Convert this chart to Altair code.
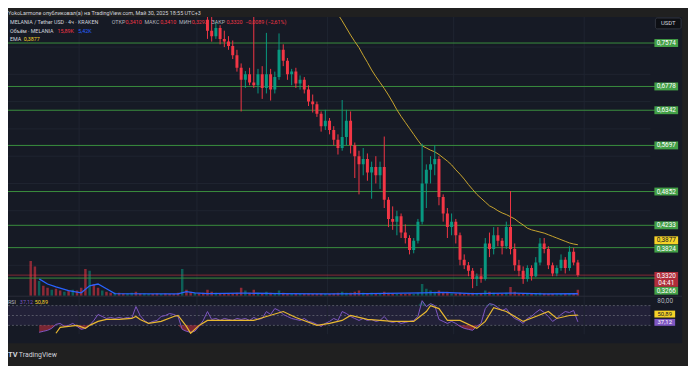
import json
import altair as alt
import numpy as np
import pandas as pd

BASE = pd.Timestamp("2025-02-01")

# ---------------- data ----------------
candle_first = "2025-03-03"
c_open = [0.800, 0.780, 0.770, 0.785, 0.765, 0.760, 0.752, 0.735, 0.712, 0.690,
          0.700, 0.685, 0.680, 0.700, 0.675, 0.700, 0.672, 0.695, 0.745, 0.725,
          0.700, 0.705, 0.683, 0.690, 0.672, 0.650, 0.645, 0.628, 0.605,
          0.615, 0.598, 0.580, 0.565, 0.585, 0.615, 0.570, 0.550, 0.535, 0.545,
          0.520, 0.530, 0.515, 0.530, 0.470, 0.435, 0.430, 0.440, 0.410, 0.400,
          0.378, 0.395, 0.430, 0.500, 0.525, 0.535, 0.545, 0.475, 0.445, 0.420,
          0.430, 0.405, 0.360, 0.350, 0.340, 0.325, 0.330, 0.325, 0.390, 0.380,
          0.405, 0.395, 0.385, 0.420, 0.380, 0.350, 0.340, 0.325, 0.345, 0.330,
          0.355, 0.390, 0.380, 0.350, 0.335, 0.345, 0.360, 0.345, 0.375, 0.355]
c_high = [0.820, 0.805, 0.795, 0.790, 0.780, 0.770, 0.762, 0.745, 0.720, 0.706,
          0.712, 0.810, 0.710, 0.715, 0.776, 0.710, 0.705, 0.775, 0.755, 0.730,
          0.710, 0.712, 0.698, 0.695, 0.680, 0.663, 0.650, 0.632, 0.635,
          0.620, 0.605, 0.590, 0.653, 0.635, 0.632, 0.575, 0.560, 0.565, 0.555,
          0.540, 0.550, 0.540, 0.586, 0.475, 0.458, 0.450, 0.445, 0.425, 0.405,
          0.400, 0.435, 0.573, 0.535, 0.550, 0.570, 0.550, 0.480, 0.455, 0.445,
          0.435, 0.410, 0.370, 0.356, 0.345, 0.335, 0.345, 0.400, 0.410, 0.420,
          0.420, 0.400, 0.430, 0.486, 0.390, 0.360, 0.348, 0.350, 0.350, 0.365,
          0.400, 0.400, 0.385, 0.355, 0.350, 0.370, 0.365, 0.385, 0.382, 0.360]
c_low = [0.765, 0.760, 0.765, 0.755, 0.750, 0.745, 0.728, 0.705, 0.632, 0.675,
         0.680, 0.675, 0.665, 0.655, 0.665, 0.652, 0.665, 0.690, 0.715, 0.690,
         0.680, 0.675, 0.672, 0.665, 0.642, 0.630, 0.622, 0.595, 0.598,
         0.590, 0.570, 0.553, 0.560, 0.570, 0.555, 0.510, 0.480, 0.515, 0.505,
         0.472, 0.500, 0.490, 0.455, 0.420, 0.415, 0.405, 0.400, 0.390, 0.370,
         0.372, 0.390, 0.425, 0.455, 0.500, 0.515, 0.460, 0.430, 0.400, 0.405,
         0.390, 0.350, 0.343, 0.330, 0.308, 0.312, 0.318, 0.322, 0.365, 0.370,
         0.385, 0.370, 0.380, 0.370, 0.340, 0.330, 0.316, 0.320, 0.322, 0.328,
         0.350, 0.372, 0.343, 0.330, 0.330, 0.340, 0.335, 0.340, 0.350, 0.329]
c_close = [0.780, 0.770, 0.785, 0.765, 0.760, 0.752, 0.735, 0.712, 0.690, 0.700,
           0.685, 0.680, 0.700, 0.675, 0.700, 0.672, 0.695, 0.745, 0.725, 0.700,
           0.705, 0.683, 0.690, 0.672, 0.650, 0.645, 0.628, 0.605, 0.615,
           0.598, 0.580, 0.565, 0.585, 0.615, 0.570, 0.550, 0.535, 0.545, 0.520,
           0.530, 0.515, 0.530, 0.470, 0.435, 0.430, 0.440, 0.410, 0.400, 0.378,
           0.395, 0.430, 0.500, 0.525, 0.535, 0.545, 0.475, 0.445, 0.420, 0.430,
           0.405, 0.360, 0.350, 0.340, 0.325, 0.330, 0.325, 0.390, 0.380, 0.405,
           0.395, 0.385, 0.420, 0.380, 0.350, 0.340, 0.325, 0.345, 0.330, 0.355,
           0.390, 0.380, 0.350, 0.335, 0.345, 0.360, 0.345, 0.375, 0.355, 0.332]

ema_first = "2025-04-01"
ema_vals = [0.830, 0.820, 0.810, 0.798, 0.785, 0.772, 0.760, 0.749, 0.735, 0.722,
            0.708, 0.696, 0.685, 0.674, 0.662, 0.649, 0.635, 0.623, 0.612, 0.601,
            0.590, 0.579, 0.569, 0.565, 0.561, 0.558, 0.553, 0.547, 0.541, 0.534,
            0.525, 0.517, 0.508, 0.498, 0.489, 0.480, 0.473, 0.466, 0.459, 0.455,
            0.450, 0.446, 0.443, 0.439, 0.435, 0.429, 0.424, 0.418, 0.415, 0.413,
            0.411, 0.409, 0.406, 0.403, 0.400, 0.397, 0.394, 0.391, 0.389, 0.3877]

levels = [0.7574, 0.6778, 0.6342, 0.5697, 0.4852, 0.4233, 0.3824, 0.3266]
last_ohlc = [0.3410, 0.3410, 0.3293, 0.3320]
change = -0.0089
change_pct = -2.61
countdown = "04:41"
vol_last = "15,89K"
vol_ma_last = "5,42K"

rsi_first = "2025-01-22"
rsi_vals = [16, 18, 20, 24, 32, 34, 28, 30, 34, 28,
            22, 24, 30, 40, 52, 48, 44, 46, 44, 46, 44, 46, 44, 68, 50, 40, 34, 38, 40, 48,
            50, 54, 52, 48, 22, 18, 16, 18,
            28, 40, 58, 42, 44, 40, 44, 42, 40, 44, 42, 44, 40, 46, 42, 44, 58, 52, 64, 60,
            52, 48, 44, 42, 40, 44, 38, 36, 32, 28, 34,
            38, 44, 40, 58, 54, 48, 44, 40, 44, 40, 42, 38, 40, 48, 38, 36, 38, 34, 36, 38,
            40, 48, 80, 68, 74, 70, 42, 38, 34, 38,
            34, 28, 24, 22, 20, 28, 34, 64, 74, 72, 66, 60, 64, 52, 44, 40, 34, 44, 48, 56,
            62, 56, 48, 38, 44, 52, 58, 56, 60, 37.12]
rsi_ma_dates = ["2025-01-26", "2025-01-27", "2025-01-29", "2025-01-31", "2025-02-02", "2025-02-03",
                "2025-02-05", "2025-02-07", "2025-02-10", "2025-02-13", "2025-02-14", "2025-02-15",
                "2025-02-17", "2025-02-20", "2025-02-23", "2025-02-24", "2025-02-26", "2025-02-27",
                "2025-03-01", "2025-03-03", "2025-03-06", "2025-03-14", "2025-03-17", "2025-03-21",
                "2025-03-24", "2025-03-29", "2025-04-01", "2025-04-04", "2025-04-06", "2025-04-10",
                "2025-04-16", "2025-04-21", "2025-04-24", "2025-04-25", "2025-04-27", "2025-04-29",
                "2025-05-02", "2025-05-06", "2025-05-08", "2025-05-10", "2025-05-13", "2025-05-17",
                "2025-05-20", "2025-05-23", "2025-05-25", "2025-05-28", "2025-05-30"]
rsi_ma_vals = [14, 26, 28, 30, 24, 30, 38, 42, 42, 44, 48, 42, 34, 38, 48, 50, 28, 14,
               30, 40, 40, 40, 48, 58, 46, 30, 34, 40, 50, 42, 38, 38, 58, 70, 64, 40,
               40, 24, 38, 66, 58, 38, 48, 58, 44, 50, 50.89]
rsi_bands = [70, 50, 30]
rsi_scale_label = 80

vol_first = "2025-01-20"
vol_vals = [95, 80, 40, 27, 22, 16, 19, 14, 11, 14, 16, 14,
            22, 73, 68, 32, 22, 14, 11, 8, 8, 8, 6, 6, 8, 11, 6, 6, 5, 5, 6, 5,
            6, 5, 5, 8, 73, 16, 11, 8,
            6, 8, 16, 11, 8, 6, 5, 5, 6, 8, 22, 14, 8, 16, 8, 6, 11, 8, 6, 14,
            8, 5, 5, 6, 5, 5, 6, 5, 5, 6, 5,
            5, 6, 8, 11, 8, 8, 11, 14, 8, 6, 8, 6, 5, 11, 8, 6, 5, 5, 5, 6,
            5, 8, 32, 19, 14, 11, 14, 8, 11, 6,
            6, 8, 5, 5, 8, 6, 5, 14, 11, 8, 6, 5, 8, 24, 11, 6, 5, 5, 5, 6,
            8, 6, 5, 5, 4, 5, 5, 6, 6, 16]
vol_dir_early = "ddudduddud" "uddduddudd" "udduudduud" "dudddduddu" "dd"
vol_ma_dates = ["2025-01-22", "2025-01-24", "2025-01-26", "2025-01-29", "2025-02-01", "2025-02-03",
                "2025-02-05", "2025-02-07", "2025-02-09", "2025-02-24", "2025-02-26", "2025-02-28",
                "2025-03-03", "2025-03-12", "2025-03-20", "2025-04-01", "2025-04-10", "2025-04-23",
                "2025-04-28", "2025-05-05", "2025-05-15", "2025-05-22", "2025-05-30"]
vol_ma_vals = [46, 32, 24, 14, 8, 27, 32, 19, 6, 5, 11, 8, 6, 7, 6, 5, 6, 8, 9, 6, 7, 5, 5.42]

month_ticks = [0, 28, 59, 89, 120]
month_names = ["Фев", "Мар", "Апр", "Май", "Июн"]
price_ticks = [0.35, 0.45, 0.50, 0.55, 0.60, 0.65, 0.70, 0.75]

# ---------------- styling ----------------
F = "Roboto"
OUTER = "#202020"
PANEL = "#161a25"
GRID = "#1f2431"
UP = "#089981"
DN = "#f23645"
LVL = "#3a8f3e"
LVL_BOX = "#43a047"
EMA_C = "#c9a630"
RSI_C = "#7e57c2"
RSIMA_C = "#e8b830"
BLUE = "#2962ff"
LABEL = "#b2b5be"
TITLE = "#d1d4dc"
YEL = "#f5d328"

W, H = 650, 321
XS = alt.Scale(domain=[-15.72, 134.57], nice=False, zero=False)
PY = alt.Scale(domain=[0.2236, 0.8051], nice=False, zero=False)
RY = alt.Scale(domain=[12, 654], nice=False, zero=False)
VY = alt.Scale(domain=[-105.3, 761.4], nice=False, zero=False)
CS = alt.Scale(domain=["up", "down"], range=[UP, DN])


def tday(dates):
    idx = pd.to_datetime(pd.Index(dates))
    return np.asarray((idx - BASE).days, dtype=float) + 0.5


def fmt(v, d=4):
    return f"{v:.{d}f}".replace(".", ",").replace("-", "−")


ONE = pd.DataFrame({"a": [0]})

cdf = pd.DataFrame({"open": c_open, "high": c_high, "low": c_low, "close": c_close})
cdf["t"] = tday(pd.date_range(candle_first, periods=len(c_close)))
cdf["dir"] = np.where(cdf["close"] >= cdf["open"], "up", "down")

edf = pd.DataFrame({"ema": ema_vals})
edf["t"] = tday(pd.date_range(ema_first, periods=len(ema_vals)))

rdf = pd.DataFrame({"rsi": rsi_vals})
rdf["t"] = tday(pd.date_range(rsi_first, periods=len(rsi_vals)))
rdf["lo"] = np.minimum(rdf["rsi"], 30)
rdf["hi"] = np.maximum(rdf["rsi"], 70)
rdf["b30"] = 30.0
rdf["b70"] = 70.0

rmdf = pd.DataFrame({"t": tday(rsi_ma_dates), "ma": rsi_ma_vals})

vdf = pd.DataFrame({"v": vol_vals})
vdf["t"] = tday(pd.date_range(vol_first, periods=len(vol_vals)))
vdf["dir"] = ["up" if ch == "u" else "down" for ch in vol_dir_early] + list(cdf["dir"])
vdf["z"] = 0.0
vmdf = pd.DataFrame({"t": tday(vol_ma_dates), "ma": vol_ma_vals})

layers = []

# panel background
layers.append(alt.Chart(ONE).mark_rect(color=PANEL).encode(
    x=alt.value(-3), x2=alt.value(682), y=alt.value(0), y2=alt.value(330)))

# RSI band
layers.append(alt.Chart(pd.DataFrame({"hi": [rsi_bands[0]], "lo": [rsi_bands[-1]]})).mark_rect(
    color=RSI_C, opacity=0.12).encode(
    x=alt.value(0), x2=alt.value(W),
    y=alt.Y("hi:Q", scale=RY, axis=None), y2="lo:Q"))

# vertical grid + time axis
month_expr = "{}[indexof({}, datum.value)]".format(
    json.dumps(month_names, ensure_ascii=False), json.dumps(month_ticks))
layers.append(alt.Chart(pd.DataFrame({"t": month_ticks})).mark_rule(color=GRID, strokeWidth=1).encode(
    x=alt.X("t:Q", scale=XS, axis=alt.Axis(
        values=month_ticks, labelExpr=month_expr, domain=False, ticks=False, grid=False,
        labelColor=LABEL, labelFont=F, labelFontSize=7, labelPadding=3, title=None))))

# horizontal grid + price axis
layers.append(alt.Chart(pd.DataFrame({"p": price_ticks})).mark_rule(color=GRID, strokeWidth=1).encode(
    x=alt.value(0), x2=alt.value(W),
    y=alt.Y("p:Q", scale=PY, axis=alt.Axis(
        orient="right", values=price_ticks,
        labelExpr="replace(format(datum.value, '.4f'), '.', ',')",
        domain=False, ticks=False, grid=False, labelColor=LABEL, labelFont=F,
        labelFontSize=6.5, labelPadding=7, title=None))))

# RSI dashed lines
layers.append(alt.Chart(pd.DataFrame({"r": rsi_bands})).mark_rule(
    color="#787b86", strokeDash=[2, 2], opacity=0.6).encode(
    x=alt.value(0), x2=alt.value(W), y=alt.Y("r:Q", scale=RY, axis=None)))

# volume
layers.append(alt.Chart(vdf).mark_bar(size=2.5, opacity=0.55, clip=True).encode(
    x=alt.X("t:Q", scale=XS, axis=None), y=alt.Y("v:Q", scale=VY, axis=None), y2="z:Q",
    color=alt.Color("dir:N", scale=CS, legend=None)))
layers.append(alt.Chart(vmdf).mark_line(color=BLUE, strokeWidth=1.3, clip=True).encode(
    x=alt.X("t:Q", scale=XS, axis=None), y=alt.Y("ma:Q", scale=VY, axis=None)))

# horizontal levels
layers.append(alt.Chart(pd.DataFrame({"p": levels})).mark_rule(color=LVL, strokeWidth=1).encode(
    x=alt.value(0), x2=alt.value(656), y=alt.Y("p:Q", scale=PY, axis=None)))
layers.append(alt.Chart(pd.DataFrame({"p": [last_ohlc[3]]})).mark_rule(
    color=DN, strokeWidth=1, opacity=0.5).encode(
    x=alt.value(0), x2=alt.value(656), y=alt.Y("p:Q", scale=PY, axis=None)))

# EMA
layers.append(alt.Chart(edf).mark_line(color=EMA_C, strokeWidth=1, clip=True).encode(
    x=alt.X("t:Q", scale=XS, axis=None), y=alt.Y("ema:Q", scale=PY, axis=None)))

# candles
layers.append(alt.Chart(cdf).mark_rule(strokeWidth=1, clip=True).encode(
    x=alt.X("t:Q", scale=XS, axis=None), y=alt.Y("low:Q", scale=PY, axis=None), y2="high:Q",
    color=alt.Color("dir:N", scale=CS, legend=None)))
layers.append(alt.Chart(cdf).mark_bar(size=3, clip=True).encode(
    x=alt.X("t:Q", scale=XS, axis=None), y=alt.Y("open:Q", scale=PY, axis=None), y2="close:Q",
    color=alt.Color("dir:N", scale=CS, legend=None)))

# RSI fills and lines
layers.append(alt.Chart(rdf).mark_area(color=DN, opacity=0.45, clip=True).encode(
    x=alt.X("t:Q", scale=XS, axis=None), y=alt.Y("lo:Q", scale=RY, axis=None), y2="b30:Q"))
layers.append(alt.Chart(rdf).mark_area(color=UP, opacity=0.35, clip=True).encode(
    x=alt.X("t:Q", scale=XS, axis=None), y=alt.Y("hi:Q", scale=RY, axis=None), y2="b70:Q"))
layers.append(alt.Chart(rdf).mark_line(color=RSI_C, strokeWidth=1, clip=True).encode(
    x=alt.X("t:Q", scale=XS, axis=None), y=alt.Y("rsi:Q", scale=RY, axis=None)))
layers.append(alt.Chart(rmdf).mark_line(color=RSIMA_C, strokeWidth=1.2, clip=True).encode(
    x=alt.X("t:Q", scale=XS, axis=None), y=alt.Y("ma:Q", scale=RY, axis=None)))

# pane separator
layers.append(alt.Chart(ONE).mark_rule(color="#2a2e39", strokeWidth=1).encode(
    x=alt.value(0), x2=alt.value(682), y=alt.value(282.5)))


def box(value, text, fill, tcolor, scale, yoff=0.0, xc=666, w=24, h=8, fs=6.5):
    df = pd.DataFrame({"p": [value], "s": [text]})
    b = alt.Chart(df)
    return [
        b.mark_tick(orient="horizontal", size=w, thickness=h, color=fill, opacity=1,
                    yOffset=yoff).encode(x=alt.value(xc), y=alt.Y("p:Q", scale=scale, axis=None)),
        b.mark_text(color=tcolor, font=F, fontSize=fs, align="center", baseline="middle",
                    yOffset=yoff).encode(x=alt.value(xc), y=alt.Y("p:Q", scale=scale, axis=None),
                                         text="s:N"),
    ]


label_shift = {0.3824: 1.0, 0.3266: 12.8}
for lv in levels:
    layers += box(lv, fmt(lv), LVL_BOX, "#ffffff", PY, yoff=label_shift.get(lv, 0.0))
layers += box(ema_vals[-1], fmt(ema_vals[-1]), YEL, "#131722", PY, yoff=-4.5)
# last price (two-line red label)
lp = pd.DataFrame({"p": [last_ohlc[3]], "s": [fmt(last_ohlc[3])], "c": [countdown]})
layers.append(alt.Chart(lp).mark_tick(orient="horizontal", size=24, thickness=15, color=DN,
                                      yOffset=4.3).encode(
    x=alt.value(666), y=alt.Y("p:Q", scale=PY, axis=None)))
layers.append(alt.Chart(lp).mark_text(color="#ffffff", font=F, fontSize=6.5, align="center",
                                      baseline="middle", yOffset=0.5).encode(
    x=alt.value(666), y=alt.Y("p:Q", scale=PY, axis=None), text="s:N"))
layers.append(alt.Chart(lp).mark_text(color="#ffffff", font=F, fontSize=6.5, align="center",
                                      baseline="middle", yOffset=8.3).encode(
    x=alt.value(666), y=alt.Y("p:Q", scale=PY, axis=None), text="c:N"))
# RSI labels
layers.append(alt.Chart(pd.DataFrame({"p": [rsi_scale_label], "s": [fmt(rsi_scale_label, 2)]}))
              .mark_text(color=LABEL, font=F, fontSize=6.5, align="left", baseline="middle")
              .encode(x=alt.value(657), y=alt.Y("p:Q", scale=RY, axis=None), text="s:N"))
layers += box(rsi_ma_vals[-1], fmt(rsi_ma_vals[-1], 2), YEL, "#131722", RY, yoff=-1.0,
              xc=664.5, w=21, h=7, fs=6)
layers += box(rsi_vals[-1], fmt(rsi_vals[-1], 2), RSI_C, "#ffffff", RY, yoff=0.5,
              xc=664.5, w=21, h=7, fs=6)


def txt(s, x, y, color=LABEL, fs=5.4, weight="normal", align="left"):
    return alt.Chart(ONE).mark_text(text=s, color=color, font=F, fontSize=fs, fontWeight=weight,
                                    align=align, baseline="middle").encode(
        x=alt.value(x), y=alt.value(y))


# legend lines
layers += [
    txt("MELANIA / Tether USD · 4ч · KRAKEN", 2, 5, TITLE),
    txt("ОТКР", 105, 5), txt(fmt(last_ohlc[0]), 119, 5, DN),
    txt("МАКС", 138, 5), txt(fmt(last_ohlc[1]), 154, 5, DN),
    txt("МИН", 173, 5), txt(fmt(last_ohlc[2]), 186, 5, DN),
    txt("ЗАКР", 206, 5), txt(fmt(last_ohlc[3]), 221, 5, DN),
    txt(f"{fmt(change)} ({fmt(change_pct, 2)}%)", 240, 5, DN),
    txt("Объём · MELANIA", 2, 14, TITLE), txt(vol_last, 50, 14, DN), txt(vol_ma_last, 71, 14, BLUE),
    txt("EMA", 2, 22, TITLE), txt(fmt(ema_vals[-1]), 16, 22, YEL),
    txt("RSI", 0, 288, LABEL, 5.5), txt(fmt(rsi_vals[-1], 2), 12, 288, RSI_C, 5.5),
    txt(fmt(rsi_ma_vals[-1], 2), 27, 288, YEL, 5.5),
]

# USDT box
layers.append(alt.Chart(ONE).mark_rect(color="#0d0f14", stroke="#3a3e48", strokeWidth=0.8,
                                       cornerRadius=2).encode(
    x=alt.value(655), x2=alt.value(681), y=alt.value(1), y2=alt.value(12)))
layers.append(txt("USDT", 668, 6.5, TITLE, 6, align="center"))

# header and footer
layers.append(txt("YokoLarmone опубликовал(а) на TradingView.com, Май 30, 2025 18:55 UTC+3",
                  0, -4.5, TITLE, 5.5))
layers.append(txt("TV", 0, 342, TITLE, 7.5, weight="bold"))
layers.append(txt("TradingView", 11, 342, TITLE, 7))

chart = alt.layer(*layers).resolve_scale(y="independent").properties(
    width=W, height=H,
    padding={"left": 0, "top": 7, "right": 38, "bottom": 30},
    autosize=alt.AutoSizeParams(type="none"),
).configure(background=OUTER).configure_view(strokeWidth=0)

chart.save("out.html", embed_options={"renderer": "svg", "actions": False})
